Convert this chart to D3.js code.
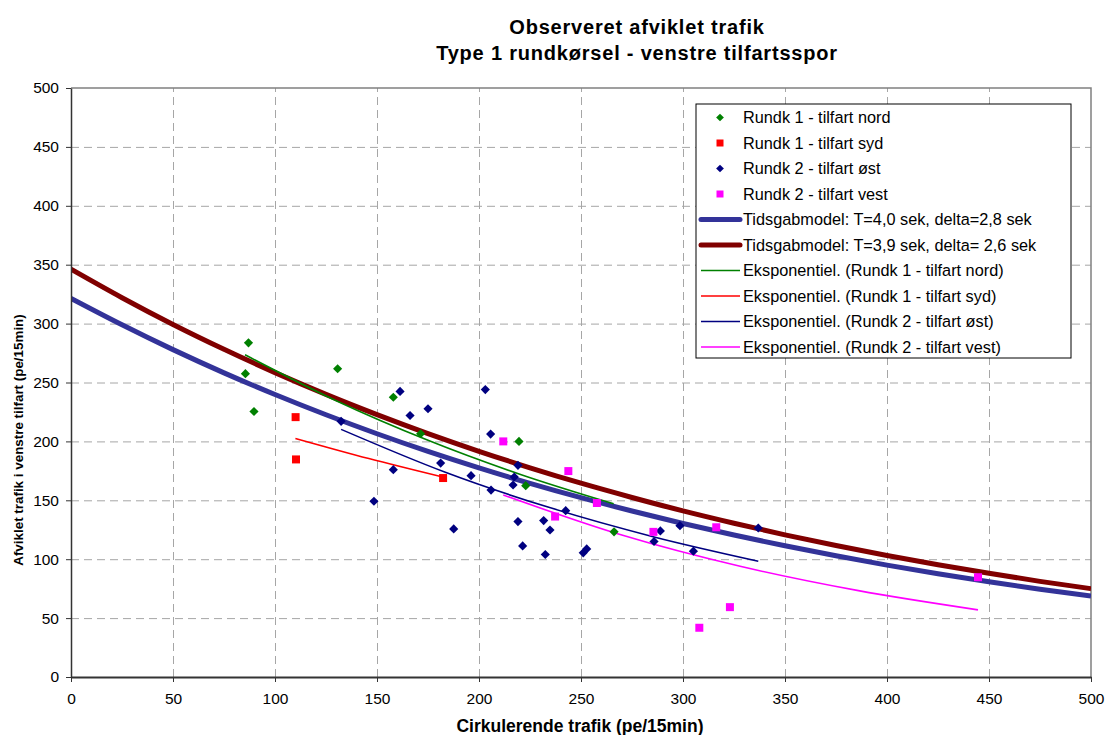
<!DOCTYPE html>
<html lang="da">
<head>
    <meta charset="UTF-8">
    <title>Observeret afviklet trafik</title>
    <script src="https://d3js.org/d3.v7.min.js"></script>
    <style>
        body {
            margin: 0;
            background: #fff;
            font-family: "Liberation Sans", Arial, sans-serif;
        }

        .grid line {
            stroke: #a6a6a6;
            stroke-dasharray: 8, 5;
        }

        .grid path {
            stroke: none;
        }

        .axis text {
            font-size: 15.5px;
            fill: #000;
        }

        .axis path, .axis line {
            stroke: #333;
        }

        .title {
            font-size: 20px;
            font-weight: bold;
            letter-spacing: 0.8px;
        }

        .axis-title {
            font-weight: bold;
        }

        .legend text {
            font-size: 16.3px;
        }
    </style>
</head>
<body>
    <div id="chart"></div>
    <script>
        // Rundk 1 - tilfart nord
        const nordX = [87, 85.5, 89.7, 130.7, 158, 171.4, 219.6, 222.9, 266.2];
        const nordY = [283.7, 257.5, 225.4, 261.7, 237.5, 206.5, 200, 162.4, 123.2];

        // Rundk 1 - tilfart syd
        const sydX = [110.1, 110.3, 182.4];
        const sydY = [220.6, 184.7, 168.9];

        // Rundk 2 - tilfart øst
        const oestX = [132.4, 161.3, 166.2, 175, 158, 148.5, 181.2, 187.6, 196.1, 203.1,
                       205.7, 205.9, 219.1, 217.3, 216.7, 219.1, 221.4, 231.7, 234.8, 232.5,
                       242.5, 251.1, 252.8, 288.9, 285.8, 298.5, 305.1, 336.9];
        const oestY = [217, 242.4, 222, 227.7, 176, 149.2, 181.6, 125.7, 170.9, 244,
                       206.2, 158.7, 179.7, 169.8, 163, 131.9, 111.3, 132.8, 124.8, 104,
                       141.2, 105.4, 108.7, 124, 115, 128.5, 106.8, 126.5];

        // Rundk 2 - tilfart vest
        const vestX = [211.9, 243.8, 237.3, 257.8, 285.5, 316.3, 323, 308, 444.6];
        const vestY = [200, 174.8, 136.2, 147.7, 123.2, 127.1, 59.3, 41.8, 84.7];

        // Tidsgabmodeller, aflæst for hver 25 pe/15min
        const modelX = [0, 25, 50, 75, 100, 125, 150, 175, 200, 225, 250,
                        275, 300, 325, 350, 375, 400, 425, 450, 475, 500];
        const model1Y = [321.4, 299.0, 277.9, 258.2, 239.8, 222.6, 206.5, 191.5, 177.5, 164.4, 152.2,
                         140.9, 130.3, 120.5, 111.4, 102.9, 95.0, 87.6, 80.8, 74.5, 68.7];
        const model2Y = [346.2, 322.0, 299.3, 278.2, 258.4, 239.9, 222.7, 206.6, 191.6, 177.6, 164.5,
                         152.4, 141.0, 130.5, 120.7, 111.6, 103.2, 95.3, 88.0, 81.2, 75.0];

        // Eksponentielle tendenslinjer
        const trendNordX = [85.3, 130, 175, 220, 266];
        const trendNordY = [273.5, 234.5, 200.9, 172.1, 147];
        const trendSydX = [110, 146, 182.2];
        const trendSydY = [202.5, 185.4, 169.7];
        const trendOestX = [132.4, 183.5, 234.6, 285.8, 336.9];
        const trendOestY = [210.2, 173.8, 143.8, 118.9, 98.3];
        const trendVestX = [211.9, 270, 328, 386, 444.6];
        const trendVestY = [154.5, 120.5, 94, 73.3, 57];

        const xTicks = d3.range(0, 501, 50);
        const yTicks = d3.range(0, 501, 50);

        const legendLabels = [
            "Rundk 1 - tilfart nord",
            "Rundk 1 - tilfart syd",
            "Rundk 2 - tilfart øst",
            "Rundk 2 - tilfart vest",
            "Tidsgabmodel: T=4,0 sek, delta=2,8 sek",
            "Tidsgabmodel: T=3,9 sek, delta= 2,6 sek",
            "Eksponentiel. (Rundk 1 - tilfart nord)",
            "Eksponentiel. (Rundk 1 - tilfart syd)",
            "Eksponentiel. (Rundk 2 - tilfart øst)",
            "Eksponentiel. (Rundk 2 - tilfart vest)"
        ];

        const margin = { top: 88, right: 14, bottom: 58, left: 71 };
        const width = 1105 - margin.left - margin.right;
        const height = 735 - margin.top - margin.bottom;

        const root = d3.select("#chart")
            .append("svg")
            .attr("width", 1105)
            .attr("height", 735);

        const svg = root.append("g")
            .attr("transform", `translate(${margin.left},${margin.top})`);

        const x = d3.scaleLinear().domain([0, 500]).range([0, width]);
        const y = d3.scaleLinear().domain([0, 500]).range([height, 0]);

        // Gridlines
        svg.append("g")
            .attr("class", "grid")
            .call(d3.axisLeft(y).tickValues(yTicks.slice(1, -1)).tickSize(-width).tickFormat(""));

        svg.append("g")
            .attr("class", "grid")
            .attr("transform", `translate(0,${height})`)
            .call(d3.axisBottom(x).tickValues(xTicks.slice(1, -1)).tickSize(-height).tickFormat(""));

        // Plot border (top and right)
        svg.append("path")
            .attr("d", `M0,0H${width}V${height}`)
            .attr("fill", "none")
            .attr("stroke", "#808080")
            .attr("stroke-width", 1.5);

        const zip = (xs, ys) => xs.map((v, i) => [v, ys[i]]);

        const line = d3.line()
            .x(d => x(d[0]))
            .y(d => y(d[1]))
            .curve(d3.curveMonotoneX);

        svg.append("clipPath").attr("id", "plot-clip")
            .append("rect").attr("width", width).attr("height", height);

        const plot = svg.append("g").attr("clip-path", "url(#plot-clip)");

        // Model curves
        plot.append("path")
            .datum(zip(modelX, model1Y))
            .attr("fill", "none")
            .attr("stroke", "#333399")
            .attr("stroke-width", 5)
            .attr("d", line);

        plot.append("path")
            .datum(zip(modelX, model2Y))
            .attr("fill", "none")
            .attr("stroke", "#800000")
            .attr("stroke-width", 5)
            .attr("d", line);

        // Trend lines
        const trends = [
            { pts: zip(trendNordX, trendNordY), color: "#008000" },
            { pts: zip(trendSydX, trendSydY), color: "#ff0000" },
            { pts: zip(trendOestX, trendOestY), color: "#000080" },
            { pts: zip(trendVestX, trendVestY), color: "#ff00ff" }
        ];

        trends.forEach(t => {
            plot.append("path")
                .datum(t.pts)
                .attr("fill", "none")
                .attr("stroke", t.color)
                .attr("stroke-width", 1.6)
                .attr("d", line);
        });

        // Markers
        const diamond = d3.symbol().type(d3.symbolSquare).size(42);
        const square = d3.symbol().type(d3.symbolSquare).size(64);

        const series = [
            { pts: zip(nordX, nordY), color: "#008000", shape: "diamond" },
            { pts: zip(sydX, sydY), color: "#ff0000", shape: "square" },
            { pts: zip(oestX, oestY), color: "#000080", shape: "diamond" },
            { pts: zip(vestX, vestY), color: "#ff00ff", shape: "square" }
        ];

        series.forEach(s => {
            svg.append("g").selectAll("path")
                .data(s.pts)
                .enter()
                .append("path")
                .attr("d", s.shape === "diamond" ? diamond : square)
                .attr("fill", s.color)
                .attr("transform", d => `translate(${x(d[0])},${y(d[1])})` + (s.shape === "diamond" ? " rotate(45)" : ""));
        });

        // Axes
        svg.append("g")
            .attr("class", "axis")
            .attr("transform", `translate(0,${height})`)
            .call(d3.axisBottom(x).tickValues(xTicks).tickSize(5).tickPadding(11).tickSizeOuter(0))
            .call(g => g.select(".domain").attr("stroke-width", 2));

        svg.append("g")
            .attr("class", "axis")
            .call(d3.axisLeft(y).tickValues(yTicks).tickSize(5).tickPadding(7).tickSizeOuter(0))
            .call(g => g.select(".domain").attr("stroke-width", 1.5));

        // Titles
        root.append("text")
            .attr("class", "title")
            .attr("x", 637).attr("y", 34)
            .attr("text-anchor", "middle")
            .text("Observeret afviklet trafik");

        root.append("text")
            .attr("class", "title")
            .attr("x", 637).attr("y", 60)
            .attr("text-anchor", "middle")
            .text("Type 1 rundkørsel - venstre tilfartsspor");

        root.append("text")
            .attr("class", "axis-title")
            .attr("x", 580).attr("y", 732)
            .attr("text-anchor", "middle")
            .style("font-size", "17.5px")
            .text("Cirkulerende trafik (pe/15min)");

        root.append("text")
            .attr("class", "axis-title")
            .attr("transform", "translate(23,440) rotate(-90)")
            .attr("text-anchor", "middle")
            .style("font-size", "13.4px")
            .text("Afviklet trafik i venstre tilfart (pe/15min)");

        // Legend
        const legend = root.append("g")
            .attr("class", "legend")
            .attr("transform", "translate(696,104)");

        legend.append("rect")
            .attr("width", 375)
            .attr("height", 254)
            .attr("fill", "#fff")
            .attr("stroke", "#000")
            .attr("stroke-width", 1);

        const legendItems = [
            { type: "marker", shape: "diamond", color: "#008000" },
            { type: "marker", shape: "square", color: "#ff0000" },
            { type: "marker", shape: "diamond", color: "#000080" },
            { type: "marker", shape: "square", color: "#ff00ff" },
            { type: "line", color: "#333399", w: 5 },
            { type: "line", color: "#800000", w: 5 },
            { type: "line", color: "#008000", w: 1.6 },
            { type: "line", color: "#ff0000", w: 1.6 },
            { type: "line", color: "#000080", w: 1.6 },
            { type: "line", color: "#ff00ff", w: 1.6 }
        ];

        legendItems.forEach((item, i) => {
            const cy = 13.5 + i * 25.5;
            if (item.type === "marker") {
                legend.append("path")
                    .attr("d", item.shape === "diamond"
                        ? d3.symbol().type(d3.symbolSquare).size(30)
                        : d3.symbol().type(d3.symbolSquare).size(49))
                    .attr("fill", item.color)
                    .attr("transform", `translate(24,${cy})` + (item.shape === "diamond" ? " rotate(45)" : ""));
            } else {
                legend.append("line")
                    .attr("x1", 5).attr("x2", 44)
                    .attr("y1", cy).attr("y2", cy)
                    .attr("stroke", item.color)
                    .attr("stroke-width", item.w)
                    .attr("stroke-linecap", item.w > 2 ? "round" : "butt");
            }
            legend.append("text")
                .attr("x", 47)
                .attr("y", cy)
                .attr("dy", "0.35em")
                .text(legendLabels[i]);
        });
    </script>
</body>
</html>
